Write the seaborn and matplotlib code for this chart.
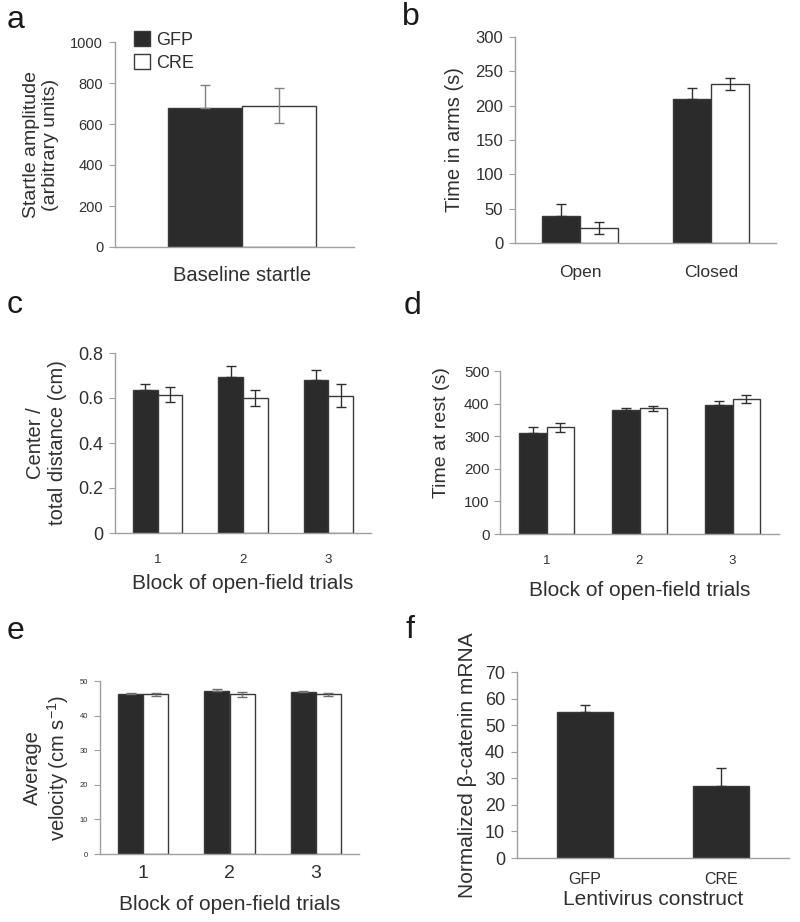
import numpy as np
import pandas as pd
import matplotlib
matplotlib.use("Agg")
import matplotlib.pyplot as plt
import seaborn as sns

# ---- data ----
groups = ["GFP", "CRE"]

# a: baseline startle
a_cats = ["Baseline startle"]
a_gfp = [680]
a_cre = [690]
a_gfp_err = [110]
a_cre_err = [85]

# b: elevated plus maze
b_cats = ["Open", "Closed"]
b_gfp = [39, 209]
b_cre = [22, 232]
b_gfp_err = [18, 16]
b_cre_err = [9, 9]

# c: center / total distance
c_cats = ["1", "2", "3"]
c_gfp = [0.635, 0.695, 0.68]
c_cre = [0.615, 0.60, 0.61]
c_gfp_err = [0.025, 0.045, 0.045]
c_cre_err = [0.035, 0.037, 0.05]

# d: time at rest
d_cats = ["1", "2", "3"]
d_gfp = [310, 380, 396]
d_cre = [327, 386, 413]
d_gfp_err = [18, 8, 12]
d_cre_err = [14, 8, 12]

# e: average velocity
e_cats = ["1", "2", "3"]
e_gfp = [46.2, 47.2, 46.7]
e_cre = [46.1, 46.1, 46.1]
e_gfp_err = [0.2, 0.4, 0.3]
e_cre_err = [0.4, 0.6, 0.4]

# f: beta-catenin mRNA
f_cats = ["GFP", "CRE"]
f_vals = [55, 27]
f_err = [2.7, 7]

DARK = "#2b2b2b"
EDGE = "#3a3a3a"
SPINE = "#a0a0a0"
TXT = "#303030"

sns.set_style("white")
plt.rcParams['font.family'] = ['Liberation Sans', 'DejaVu Sans']
plt.rcParams['mathtext.fontset'] = 'custom'
plt.rcParams['mathtext.rm'] = 'Liberation Sans'
plt.rcParams['mathtext.it'] = 'Liberation Sans:italic'

fig = plt.figure(figsize=(8, 9.22), dpi=100)
W, H = 800, 922


def px_axes(x0, x1, y0, y1):
    return fig.add_axes([x0 / W, 1 - y1 / H, (x1 - x0) / W, (y1 - y0) / H])


def style_axes(ax, n, ytick_fs, xtick_fs, ylim, yticks, yfmt=None, xpad=10, ypad=4):
    for s in ["top", "right"]:
        ax.spines[s].set_visible(False)
    for s in ["left", "bottom"]:
        ax.spines[s].set_color(SPINE)
        ax.spines[s].set_linewidth(1)
    ax.set_xlim(-0.5, n - 0.5)
    ax.set_ylim(*ylim)
    ax.set_yticks(yticks)
    if yfmt:
        ax.set_yticklabels([yfmt(v) for v in yticks])
    ax.set_xticks(np.arange(-0.5, n, 1.0), minor=True)
    ax.tick_params(axis="x", which="major", length=0, labelsize=xtick_fs, labelcolor=TXT, pad=xpad)
    ax.tick_params(axis="x", which="minor", length=4, color=SPINE, direction="out")
    ax.tick_params(axis="y", length=4.5, color=SPINE, direction="out", labelsize=ytick_fs,
                   labelcolor=TXT, left=True, pad=ypad)
    ax.set_xlabel("")
    ax.set_ylabel("")


def grouped(ax, cats, gfp, cre, gfp_err, cre_err, width, ecolor=TXT, legend=False):
    df = pd.DataFrame({
        "cat": cats * 2,
        "group": ["GFP"] * len(cats) + ["CRE"] * len(cats),
        "value": gfp + cre,
    })
    sns.barplot(data=df, x="cat", y="value", hue="group", order=cats, hue_order=groups,
                palette={"GFP": DARK, "CRE": "white"}, saturation=1, width=width,
                errorbar=None, edgecolor=EDGE, linewidth=1, ax=ax, legend=legend)
    # GFP bars only show the upper half of the error bar
    for cont, vals, err, one_sided in zip(ax.containers, [gfp, cre], [gfp_err, cre_err], [True, False]):
        xs = [p.get_x() + p.get_width() / 2 for p in cont]
        lower = [0] * len(err) if one_sided else err
        ax.errorbar(xs, vals, yerr=[lower, err], fmt="none", ecolor=ecolor,
                    elinewidth=1, capsize=3.5, capthick=1, zorder=5)


# ---- a ----
ax = px_axes(115, 354, 42, 247)
grouped(ax, a_cats, a_gfp, a_cre, a_gfp_err, a_cre_err, 0.62, ecolor="#808080", legend=True)
style_axes(ax, 1, 10.5, 14.5, (0, 1000), [0, 200, 400, 600, 800, 1000], xpad=14)
ax.set_xlim(-0.53, 0.47)
ax.set_xticks([-0.53, 0.0, 0.47], minor=True)
ax.set_ylabel("Startle amplitude\n(arbitrary units)", fontsize=14, color=TXT, labelpad=8)
sns.move_legend(ax, "upper left", bbox_to_anchor=(134 / W, 1 - 31 / H),
                bbox_transform=fig.transFigure, frameon=False, title=None,
                fontsize=13, handlelength=0.9, handleheight=0.9,
                handletextpad=0.3, labelspacing=0.3, borderpad=0, borderaxespad=0)
for t in ax.get_legend().get_texts():
    t.set_color(TXT)

# ---- b ----
ax = px_axes(515, 776, 37, 243)
grouped(ax, b_cats, b_gfp, b_cre, b_gfp_err, b_cre_err, 0.58)
style_axes(ax, 2, 12, 12.5, (0, 300), [0, 50, 100, 150, 200, 250, 300], xpad=16)
ax.set_ylabel("Time in arms (s)", fontsize=14.5, color=TXT, labelpad=8)

# ---- c ----
ax = px_axes(115, 371, 353, 533)
grouped(ax, c_cats, c_gfp, c_cre, c_gfp_err, c_cre_err, 0.58)
style_axes(ax, 3, 13, 9.5, (0, 0.8), [0, 0.2, 0.4, 0.6, 0.8],
           yfmt=lambda v: "0" if v == 0 else f"{v:.1f}", xpad=15)
ax.set_ylabel("Center /\ntotal distance (cm)", fontsize=14.5, color=TXT, labelpad=8)
ax.set_xlabel("Block of open-field trials", fontsize=15, color=TXT, labelpad=6)

# ---- d ----
ax = px_axes(500, 779, 371, 534)
grouped(ax, d_cats, d_gfp, d_cre, d_gfp_err, d_cre_err, 0.6)
style_axes(ax, 3, 11, 9.5, (0, 500), [0, 100, 200, 300, 400, 500], xpad=15, ypad=3)
ax.set_ylabel("Time at rest (s)", fontsize=14, color=TXT, labelpad=6)
ax.yaxis.set_label_coords(-0.18, 0.62)
ax.set_xlabel("Block of open-field trials", fontsize=15, color=TXT, labelpad=10)

# ---- e ----
ax = px_axes(100, 359, 681, 854)
grouped(ax, e_cats, e_gfp, e_cre, e_gfp_err, e_cre_err, 0.58, ecolor="#707070")
style_axes(ax, 3, 5.5, 14, (0, 50), [0, 10, 20, 30, 40, 50], xpad=8)
ax.set_ylabel("Average\nvelocity (cm s$^{-1}$)", fontsize=14.5, color=TXT, labelpad=6)
ax.set_xlabel("Block of open-field trials", fontsize=15, color=TXT, labelpad=9)

# ---- f ----
ax = px_axes(517, 789, 672, 858)
sns.barplot(x=f_cats, y=f_vals, color=DARK, saturation=1, width=0.41,
            errorbar=None, edgecolor=EDGE, linewidth=1, ax=ax)
xs = [p.get_x() + p.get_width() / 2 for p in ax.containers[0]]
ax.errorbar(xs, f_vals, yerr=[[0] * len(f_err), f_err], fmt="none", ecolor=TXT,
            elinewidth=1, capsize=3.5, capthick=1, zorder=5)
style_axes(ax, 2, 13, 11.5, (0, 70), [0, 10, 20, 30, 40, 50, 60, 70])
ax.set_ylabel("Normalized β-catenin mRNA", fontsize=15, color=TXT, labelpad=6)
ax.set_xlabel("Lentivirus construct", fontsize=15, color=TXT, labelpad=2)

# ---- panel letters ----
for letter, x, y in [("a", 7, 28), ("b", 402, 25), ("c", 7, 313), ("d", 404, 314),
                     ("e", 7, 639), ("f", 405, 638)]:
    fig.text(x / W, 1 - y / H, letter, fontsize=23, color="#1a1a1a", va="baseline", ha="left")

fig.savefig("out.png", dpi=100)
